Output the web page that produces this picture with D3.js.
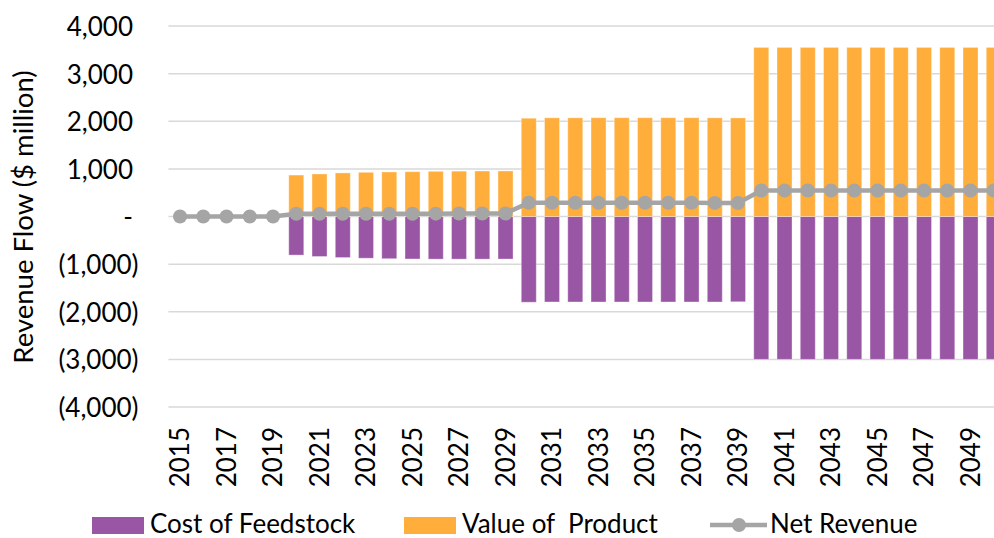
<!DOCTYPE html>
<html>
<head>
<meta charset="utf-8">
<script src="https://cdn.jsdelivr.net/npm/d3@7"></script>
<style>
  body { margin: 0; background: #fff; }
  svg { display: block; font-family: Lato, "Open Sans", sans-serif; }
</style>
</head>
<body>
<svg id="bg" width="994" height="538"></svg>
<script>
// data
var years = [2015,2016,2017,2018,2019,2020,2021,2022,2023,2024,2025,2026,2027,2028,2029,
  2030,2031,2032,2033,2034,2035,2036,2037,2038,2039,
  2040,2041,2042,2043,2044,2045,2046,2047,2048,2049,2050];

var costFeedstock = [0,0,0,0,0,-810,-840,-862,-876,-886,-892,-895,-895,-895,-893,
  -1800,-1795,-1795,-1795,-1795,-1795,-1795,-1795,-1795,-1790,
  -3000,-3000,-3000,-3000,-3000,-3000,-3000,-3000,-3000,-3000,-3000];

var valueProduct = [0,0,0,0,0,870,893,915,928,935,941,948,952,955,956,
  2063,2072,2072,2074,2074,2074,2074,2074,2072,2070,
  3550,3550,3550,3550,3550,3550,3550,3550,3550,3550,3550];

var netRevenue = [0,0,0,0,0,58,56,57,58,58,59,60,62,63,63,
  290,288,288,288,288,288,288,288,286,284,
  545,545,545,545,545,545,545,545,545,545,545];

var yTicks = [-4000,-3000,-2000,-1000,0,1000,2000,3000,4000];

var legendNames = ['Cost of Feedstock', 'Value of  Product', 'Net Revenue'];

var purple = '#9956a5';
var orange = '#ffad3b';
var grey = '#a5a5a5';

var step = 23.25;
var plotLeft = 168.4;

var xScale = d3.scaleBand()
  .domain(years)
  .range([plotLeft, plotLeft + step * years.length])
  .paddingInner(0.355)
  .paddingOuter(0.1775);

var yScale = d3.scaleLinear()
  .domain([-4000, 4000])
  .range([407, 26]);

var svg = d3.select('#bg');
var fmt = d3.format(',');

// gridlines
svg.append('g').selectAll('line')
  .data(yTicks)
  .join('line')
  .attr('x1', plotLeft)
  .attr('x2', 994)
  .attr('y1', d => yScale(d))
  .attr('y2', d => yScale(d))
  .attr('stroke', '#d9d9d9')
  .attr('stroke-width', 1.5);

// y tick labels
var yAxis = svg.append('g')
  .attr('transform', 'translate(133,0)')
  .call(d3.axisLeft(yScale).tickValues(yTicks).tickSize(0).tickPadding(0)
    .tickFormat(d => {
      if(d == 0) return '-';
      if(d < 0) return '(' + fmt(-d) + ')';
      return fmt(d);
    }));
yAxis.select('.domain').remove();
yAxis.selectAll('text')
  .attr('font-family', 'Lato, sans-serif')
  .attr('font-size', 26)
  .attr('fill', '#000')
  .attr('dy', '0.36em')
  .attr('x', d => d < 0 ? 5.5 : 0);

// bars
function dibujarBarras(data, color, clase) {
  svg.append('g').selectAll('.' + clase)
    .data(data)
    .join('rect')
    .attr('class', clase)
    .attr('x', (d, i) => xScale(years[i]))
    .attr('width', xScale.bandwidth())
    .attr('y', d => yScale(Math.max(0, d)))
    .attr('height', d => Math.abs(yScale(d) - yScale(0)))
    .attr('fill', color)
    .attr('stroke', '#fff')
    .attr('stroke-opacity', 0.35)
    .attr('stroke-width', 1);
}
dibujarBarras(costFeedstock, purple, 'cost');
dibujarBarras(valueProduct, orange, 'value');

// net revenue line
var cx = (d, i) => xScale(years[i]) + xScale.bandwidth() / 2;
svg.append('path')
  .datum(netRevenue)
  .attr('fill', 'none')
  .attr('stroke', grey)
  .attr('stroke-width', 4.5)
  .attr('d', d3.line().x(cx).y(d => yScale(d)));

svg.append('g').selectAll('circle')
  .data(netRevenue)
  .join('circle')
  .attr('cx', cx)
  .attr('cy', d => yScale(d))
  .attr('r', 7)
  .attr('fill', grey);

// x labels, every other year
svg.append('g').selectAll('text')
  .data(years.filter((d, i) => i % 2 == 0))
  .join('text')
  .attr('transform', d => 'translate(' + (xScale(d) + xScale.bandwidth() / 2) + ',427) rotate(-90)')
  .attr('text-anchor', 'end')
  .attr('dy', '0.36em')
  .attr('font-size', 26)
  .attr('fill', '#000')
  .text(d => d);

// y axis title
svg.append('text')
  .attr('transform', 'translate(33,217) rotate(-90)')
  .attr('text-anchor', 'middle')
  .attr('font-size', 27.5)
  .attr('fill', '#000')
  .text('Revenue Flow ($ million)');

// legend
var leg = svg.append('g').attr('font-size', 26);
function legText(x, name) {
  leg.append('text')
    .attr('x', x)
    .attr('y', 533)
    .attr('xml:space', 'preserve')
    .style('white-space', 'pre')
    .text(name);
}
leg.append('rect').attr('x', 92).attr('y', 517).attr('width', 52).attr('height', 17).attr('fill', purple);
legText(150, legendNames[0]);
leg.append('rect').attr('x', 404).attr('y', 517).attr('width', 52).attr('height', 17).attr('fill', orange);
legText(462, legendNames[1]);
leg.append('line').attr('x1', 710).attr('x2', 767).attr('y1', 525).attr('y2', 525)
  .attr('stroke', grey).attr('stroke-width', 4.5);
leg.append('circle').attr('cx', 739).attr('cy', 525).attr('r', 7).attr('fill', grey);
legText(770, legendNames[2]);
</script>
</body>
</html>
